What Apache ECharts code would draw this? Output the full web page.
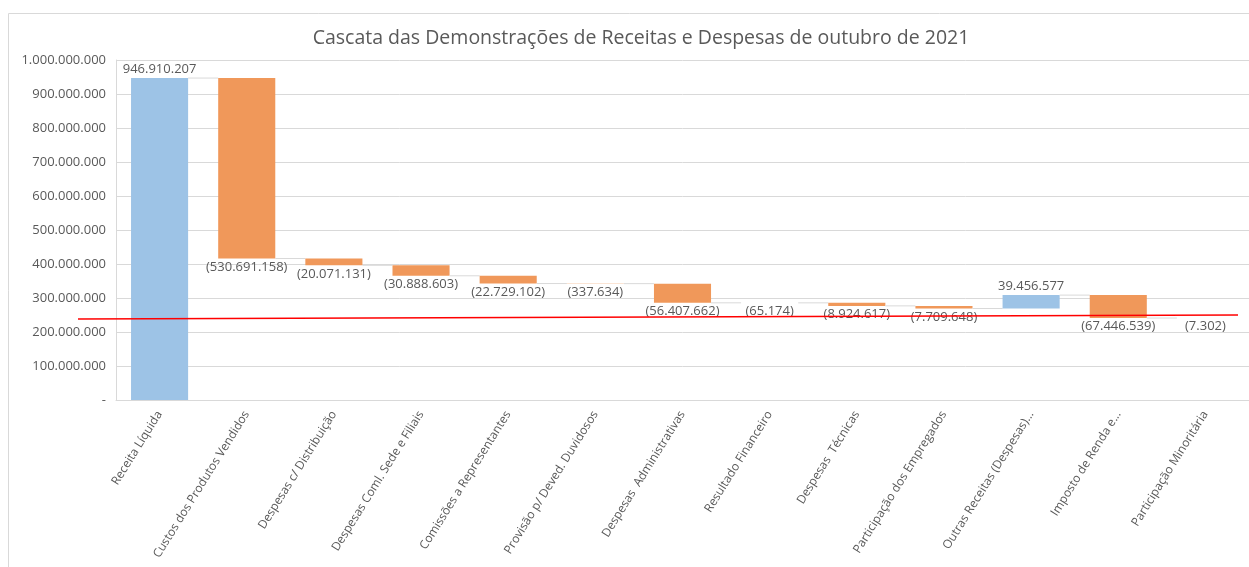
<!DOCTYPE html>
<html>
<head>
<meta charset="utf-8">
<style>
  html, body { margin: 0; padding: 0; background: #fff; overflow: hidden; }
  #chart { width: 1249px; height: 567px; }
</style>
<script src="https://cdn.jsdelivr.net/npm/echarts@6/dist/echarts.min.js"></script>
</head>
<body>
<div id="chart"></div>
<script>
// categorias e variações (DRE outubro 2021)
const categories = [
  'Receita Líquida',
  'Custos dos Produtos Vendidos',
  'Despesas c/ Distribuição',
  'Despesas Coml. Sede e Filiais',
  'Comissões a Representantes',
  'Provisão p/ Deved. Duvidosos',
  'Despesas  Administrativas',
  'Resultado Financeiro',
  'Despesas  Técnicas',
  'Participação dos Empregados',
  'Outras Receitas (Despesas)...',
  'Imposto de Renda e...',
  'Participação Minoritária'
]
const changes = [
  946910207, -530691158, -20071131, -30888603, -22729102, -337634,
  -56407662, -65174, -8924617, -7709648, 39456577, -67446539, -7302
]
const yTicks = [0, 100000000, 200000000, 300000000, 400000000, 500000000,
  600000000, 700000000, 800000000, 900000000, 1000000000]
// linha vermelha de referência (valor no início e no fim)
const redLineLevels = [238000000, 250000000]

const gray = '#595959'
const fontFamily = '"Open Sans", "Noto Sans", sans-serif'

function fmt(v) {
  return String(Math.abs(v)).replace(/\B(?=(\d{3})+(?!\d))/g, '.')
}

// monta início/fim de cada degrau
let running = 0
const steps = changes.map((c, i) => {
  const start = running
  running += c
  return [i, start, running, c]
})

const myChart = echarts.init(document.querySelector('#chart'))

const option = {
  animation: false,
  textStyle: { fontFamily },
  title: {
    text: 'Cascata das Demonstrações de Receitas e Despesas de outubro de 2021',
    left: 636,
    textAlign: 'center',
    top: 23,
    textStyle: { color: gray, fontSize: 19.5, fontWeight: 'normal', fontFamily }
  },
  grid: { left: 116, top: 60, width: 1137.5, height: 340 },
  xAxis: {
    type: 'category',
    data: categories,
    axisLine: { lineStyle: { color: '#d9d9d9' } },
    axisTick: { show: false },
    axisLabel: {
      interval: 0,
      rotate: 58,
      margin: 12,
      color: gray,
      fontSize: 12,
      fontFamily
    }
  },
  yAxis: {
    type: 'value',
    min: yTicks[0],
    max: yTicks[yTicks.length - 1],
    interval: yTicks[1] - yTicks[0],
    axisLine: { show: true, lineStyle: { color: '#d9d9d9' } },
    axisTick: { show: false },
    splitLine: { lineStyle: { color: '#d9d9d9' } },
    axisLabel: {
      margin: 10,
      color: gray,
      fontSize: 13,
      fontFamily,
      formatter: v => (v === 0 ? '-' : fmt(v))
    }
  },
  series: [
    {
      type: 'custom',
      data: steps,
      encode: { x: 0, y: [1, 2] },
      renderItem(params, api) {
        const i = api.value(0)
        const start = api.value(1)
        const end = api.value(2)
        const change = api.value(3)
        const p0 = api.coord([i, start])
        const p1 = api.coord([i, end])
        const bw = api.size([1, 0])[0] * 0.655
        const top = Math.min(p0[1], p1[1])
        const bottom = Math.max(p0[1], p1[1])
        const up = change >= 0
        const children = [
          {
            type: 'rect',
            shape: { x: p0[0] - bw / 2, y: top, width: bw, height: bottom - top },
            style: { fill: up ? '#9dc3e6' : '#f0985a' }
          },
          {
            type: 'text',
            style: {
              text: up ? fmt(change) : '(' + fmt(change) + ')',
              x: p0[0],
              y: up ? top - 2 : bottom + 2,
              align: 'center',
              verticalAlign: up ? 'bottom' : 'top',
              fill: gray,
              font: '13px ' + fontFamily
            }
          }
        ]
        if (i < categories.length - 1) {
          const nx = api.coord([i + 1, end])[0]
          children.push({
            type: 'line',
            shape: { x1: p0[0] + bw / 2, y1: p1[1], x2: nx - bw / 2, y2: p1[1] },
            style: { stroke: '#d9d9d9', lineWidth: 1 }
          })
        }
        return { type: 'group', children }
      }
    }
  ]
}

myChart.setOption(option)

// moldura externa + linha vermelha a partir da escala do eixo
const yL = myChart.convertToPixel({ yAxisIndex: 0 }, redLineLevels[0])
const yR = myChart.convertToPixel({ yAxisIndex: 0 }, redLineLevels[1])
myChart.setOption({
  graphic: [
    {
      type: 'rect',
      silent: true,
      shape: { x: 8.5, y: 13.5, width: 1400, height: 700 },
      style: { fill: 'none', stroke: '#d9d9d9', lineWidth: 1 }
    },
    {
      type: 'line',
      silent: true,
      z: 100,
      shape: { x1: 78, y1: yL, x2: 1238, y2: yR },
      style: { stroke: '#ff0000', lineWidth: 1.5 }
    }
  ]
})
</script>
</body>
</html>
